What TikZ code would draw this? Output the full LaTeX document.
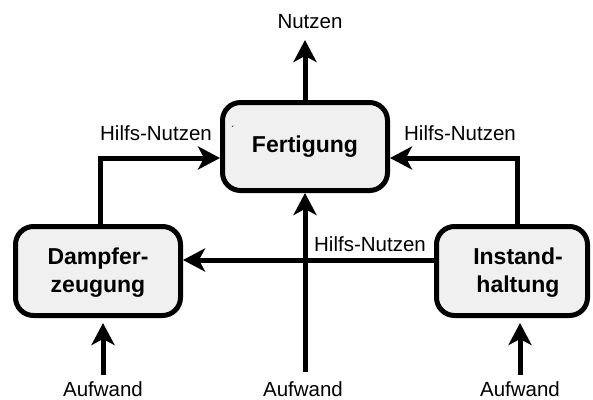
\documentclass[tikz,border=0pt]{standalone}
\usepackage{fontspec}
\setmainfont{Liberation Sans}
\usetikzlibrary{arrows.meta}
\definecolor{boxfill}{HTML}{F0F0F0}
\tikzset{
  box/.style={draw=black, line width=5pt, fill=boxfill, rounded corners=18pt, inner sep=0pt},
  btxt/.style={font=\fontsize{23}{28}\selectfont\bfseries, align=center, inner sep=0pt},
  lbl/.style={font=\fontsize{20.5}{24}\selectfont, inner sep=0pt, anchor=base},
  arr/.style={line width=5pt, -{Stealth[length=22pt,width=23pt,inset=6pt]}},
}
\begin{document}
\begin{tikzpicture}[x=1pt,y=-1pt]
\useasboundingbox (0,0) rectangle (593,399);
% boxes
\node[box, minimum width=165pt, minimum height=88pt] (F) at (305,146.5) {};
\node[box, minimum width=165pt, minimum height=89pt] (D) at (98,271) {};
\node[box, minimum width=151pt, minimum height=89pt] (I) at (512,271) {};
\node[btxt] (Ft) at (305,146.5) {Fertigung};
\node[btxt] (Dt) at (98,273) {Dampfer-\\zeugung};
\node[btxt] (It) at (518,273) {Instand-\\haltung};
% coordinates for free ends
\coordinate (nT) at (305,40);
\coordinate (a1) at (103,375);
\coordinate (a2) at (305,372);
\coordinate (a3) at (520,375);
% connectors
\draw[arr] (F.north) -- (nT);
\draw[arr] ([xshift=2pt]D.north) |- ([yshift=-11.5pt]F.west);
\draw[arr] ([xshift=5pt]I.north) |- ([yshift=-11.5pt]F.east);
\draw[arr] ([yshift=11pt]I.west) -- ([yshift=11pt]D.east);
\draw[arr] (a2) -- (F.south);
\draw[arr, shorten >=5pt] (a1) -- (a1 |- D.south);
\draw[arr, shorten >=5pt] (a3) -- (a3 |- I.south);
% labels
\node[lbl] (lN) at (310,28) {Nutzen};
\node[lbl] (lH1) at (156,140) {Hilfs-Nutzen};
\node[lbl] (lH2) at (460,140) {Hilfs-Nutzen};
\node[lbl] (lH3) at (370,251) {Hilfs-Nutzen};
\node[lbl] (lA1) at (103,396) {Aufwand};
\node[lbl] (lA2) at (303,396) {Aufwand};
\node[lbl] (lA3) at (520,396) {Aufwand};
\node[inner sep=0pt, font=\fontsize{10}{12}\selectfont] (acc) at (233,130) {´};
\end{tikzpicture}
\end{document}
